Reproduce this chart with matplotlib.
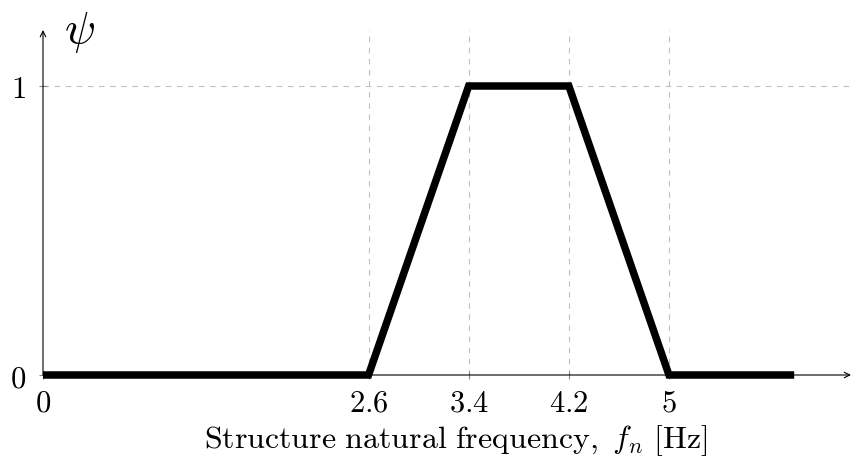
import matplotlib
matplotlib.use("Agg")
import matplotlib.pyplot as plt

plt.rcParams['mathtext.fontset'] = 'cm'
plt.rcParams['font.family'] = ['DejaVu Serif']

x_vals = [0, 2.6, 3.4, 4.2, 5, 6]
psi_vals = [0, 0, 1, 1, 0, 0]
xticks = [0, 2.6, 3.4, 4.2, 5]
xtick_labels = ['0', '2.6', '3.4', '4.2', '5']
yticks = [0, 1]
ytick_labels = ['0', '1']

fig = plt.figure(figsize=(8.51, 4.68), dpi=100)
ax = fig.add_axes([43/851, 93/468, 808/851, 345/468])
xmax = 808/125.2
ymax = 345/289
ax.set_xlim(0, xmax)
ax.set_ylim(0, ymax)
for s in ax.spines.values():
    s.set_visible(False)

# grid
for xt in xticks[1:]:
    ax.plot([xt, xt], [0, ymax], ls=(0, (5, 5)), color='#c0c0c0', lw=0.8, zorder=1)
ax.plot([0, xmax], [1, 1], ls=(0, (5, 5)), color='#c0c0c0', lw=0.8, zorder=1)

# axes with arrows
ax.annotate('', xy=(xmax, 0), xytext=(0, 0),
            arrowprops=dict(arrowstyle='->', lw=0.8, color='black', shrinkA=0, shrinkB=0),
            annotation_clip=False, zorder=2)
ax.annotate('', xy=(0, ymax), xytext=(0, 0),
            arrowprops=dict(arrowstyle='->', lw=0.8, color='black', shrinkA=0, shrinkB=0),
            annotation_clip=False, zorder=2)

ax.plot(x_vals, psi_vals, color='black', lw=5.4, solid_joinstyle='miter',
        solid_capstyle='butt', zorder=3, clip_on=False)

ax.set_xticks(xticks)
ax.set_xticklabels(['$\\mathrm{%s}$' % t for t in xtick_labels])
ax.set_yticks(yticks)
ax.set_yticklabels(['$\\mathrm{%s}$' % t for t in ytick_labels])
ax.tick_params(axis='both', direction='inout', length=6, width=0.8, color='#888888',
               labelsize=22)
ax.tick_params(axis='x', pad=6)
ax.tick_params(axis='y', pad=9)

fig.text(456/851, 1 - 441/468,
         r'$\mathrm{Structure\ natural\ frequency,}\ f_n\ \mathrm{[Hz]}$',
         fontsize=23, ha='center', va='center')

fig.text(64/851, 1 - 32/468, r'$\psi$', fontsize=33, ha='left', va='center')

fig.savefig('out.png', dpi=100)
